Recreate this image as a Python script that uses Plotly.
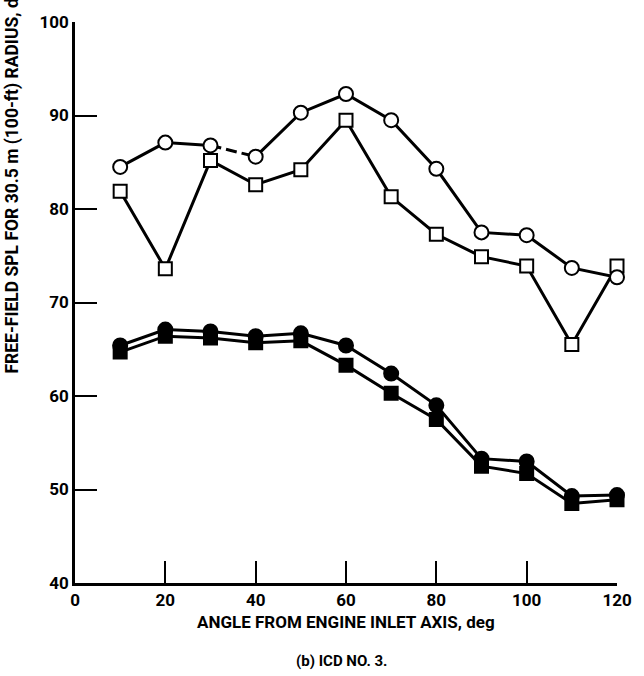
import plotly.graph_objects as go

# Angle from engine inlet axis, deg
angles = [10, 20, 30, 40, 50, 60, 70, 80, 90, 100, 110, 120]

# Free-field SPL, dB, for each configuration
open_circle = [84.5, 87.1, 86.8, 85.6, 90.3, 92.3, 89.5, 84.3, 77.5, 77.2, 73.7, 72.7]
open_square = [81.9, 73.6, 85.2, 82.6, 84.2, 89.5, 81.3, 77.3, 74.9, 73.9, 65.5, 73.9]
solid_circle = [65.4, 67.1, 66.9, 66.4, 66.7, 65.4, 62.4, 59.0, 53.3, 53.0, 49.3, 49.4]
solid_square = [64.7, 66.4, 66.2, 65.7, 65.9, 63.3, 60.3, 57.5, 52.5, 51.7, 48.5, 48.9]

x_ticks = [0, 20, 40, 60, 80, 100, 120]
y_ticks = [40, 50, 60, 70, 80, 90, 100]

FONT = "Roboto, DejaVu Sans, sans-serif"
INK = "#000000"

fig = go.Figure()


def add_line(x, y, dash="solid"):
    fig.add_trace(go.Scatter(
        x=x, y=y, mode="lines", line=dict(color=INK, width=3, dash=dash),
        connectgaps=False, showlegend=False, hoverinfo="skip",
    ))


def add_markers(y, symbol, fill, size):
    fig.add_trace(go.Scatter(
        x=angles, y=y, mode="markers",
        marker=dict(symbol=symbol, size=size, color=fill,
                    line=dict(color=INK, width=2)),
        showlegend=False, cliponaxis=False,
    ))


# Solid-symbol configurations
add_line(angles, solid_square)
add_line(angles, solid_circle)
add_markers(solid_square, "square", INK, 13)
add_markers(solid_circle, "circle", INK, 14)

# Open-square configuration
add_line(angles, open_square)
add_markers(open_square, "square", "white", 13)

# Open-circle configuration: the 30-40 deg segment is drawn broken
k = angles.index(30)
add_line(angles[:k + 1] + [None] + angles[k + 1:],
         open_circle[:k + 1] + [None] + open_circle[k + 1:])
add_line(angles[k:k + 2], open_circle[k:k + 2], dash="11px,5px")
add_markers(open_circle, "circle", "white", 14)

axis_style = dict(
    showline=True, linecolor=INK, linewidth=2.5, mirror=False,
    ticks="inside", ticklen=22, tickwidth=2, tickcolor=INK,
    showgrid=False, zeroline=False,
    tickfont=dict(family=FONT, size=17, color=INK, weight="bold"),
)
fig.update_xaxes(range=[0, 120], tickvals=x_ticks,
                 ticktext=[str(v) for v in x_ticks], **axis_style)
fig.update_yaxes(range=[40, 100], tickvals=y_ticks,
                 ticktext=[str(v) for v in y_ticks], **axis_style)

fig.add_annotation(
    text="FREE-FIELD SPL FOR 30.5 m (100-ft) RADIUS, dB",
    xref="paper", yref="paper", x=-0.116, y=0.369,
    xanchor="center", yanchor="bottom", textangle=-90, showarrow=False,
    font=dict(family=FONT, size=17.5, color=INK, weight="bold"),
)
fig.add_annotation(
    text="ANGLE FROM ENGINE INLET AXIS, deg",
    xref="paper", yref="paper", x=0.5, y=-0.070,
    xanchor="center", yanchor="middle", showarrow=False,
    font=dict(family=FONT, size=17, color=INK, weight="bold"),
)
fig.add_annotation(
    text="(b) ICD NO. 3.",
    xref="paper", yref="paper", x=0.491, y=-0.1385,
    xanchor="center", yanchor="middle", showarrow=False,
    font=dict(family=FONT, size=15, color=INK, weight="bold"),
)

fig.update_layout(
    width=644, height=676,
    margin=dict(l=75, r=17, t=20, b=93),
    paper_bgcolor="white", plot_bgcolor="white",
)

fig.write_html("out.html")
